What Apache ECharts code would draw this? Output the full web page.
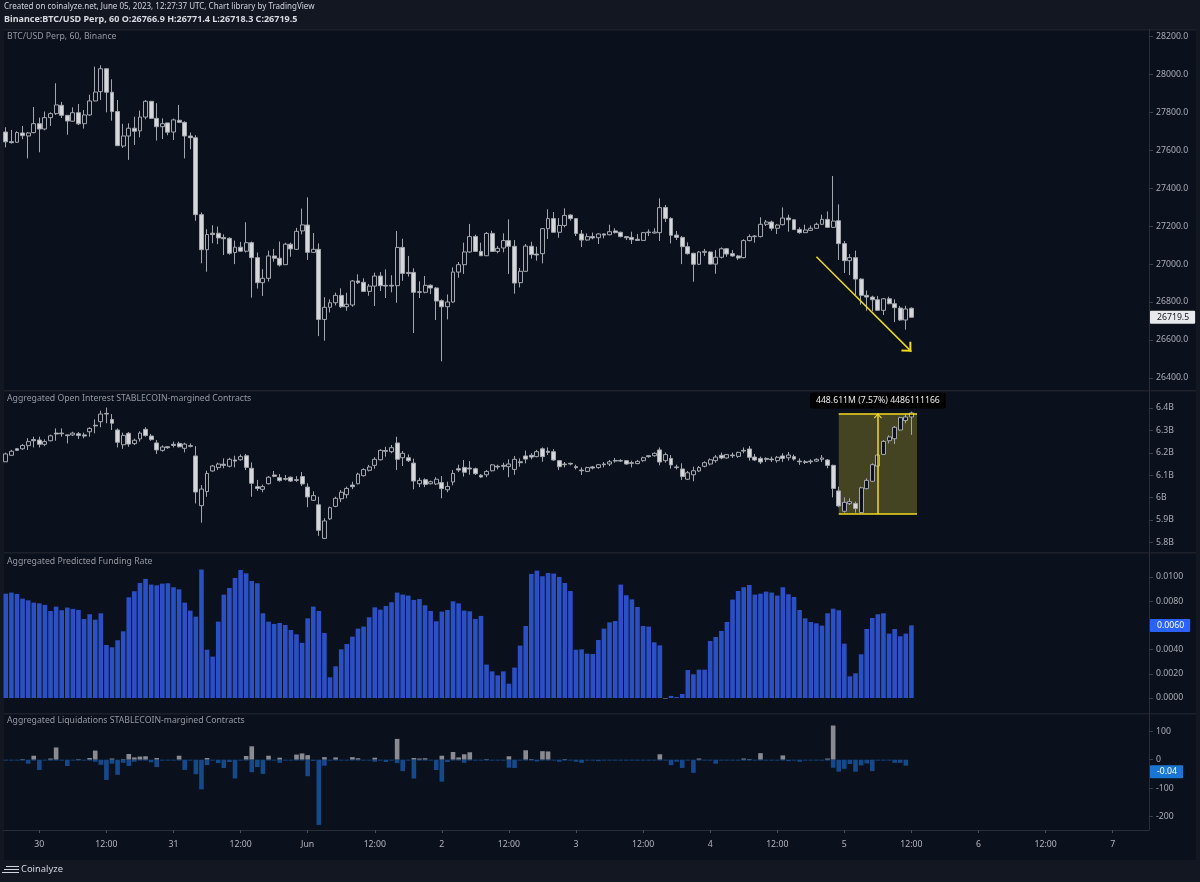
<!DOCTYPE html>
<html><head><meta charset="utf-8">
<style>html,body{margin:0;padding:0;background:#131722}#c{width:1200px;height:882px}</style>
<script src="https://cdn.jsdelivr.net/npm/echarts@6/dist/echarts.min.js"></script>
</head><body><div id="c"></div>
<script>
const priceOpen=[27697,27646,27643,27692,27676,27694,27741,27713,27773,27794,27838,27785,27754,27799,27741,27787,27861,27910,28031,27907,27805,27623,27676,27717,27703,27776,27859,27769,27725,27745,27697,27759,27748,27676,27667,27261,27076,27163,27163,27140,27136,27061,27089,27068,27113,27034,26902,26925,27043,27031,26997,27105,27078,27175,27206,27062,27078,26708,26772,26796,26835,26775,26784,26911,26904,26856,26884,26937,26888,26888,26886,27088,26956,26956,26854,26851,26888,26874,26807,26775,26800,26958,26997,27064,27146,27067,27044,27162,27067,27085,27124,27094,26902,26962,27094,27053,27055,27187,27240,27168,27204,27259,27240,27159,27127,27145,27139,27159,27155,27175,27168,27145,27141,27131,27125,27166,27164,27166,27299,27241,27153,27141,27092,27057,26999,27062,27064,27000,27036,27081,27055,27043,27034,27124,27145,27145,27210,27222,27189,27208,27243,27234,27183,27166,27178,27189,27210,27236,27194,27229,27108,27018,27034,26921,26835,26826,26812,26756,26817,26791,26768,26705,26766.9];
const priceClose=[27645,27641,27694,27678,27692,27741,27713,27773,27794,27840,27785,27755,27799,27740,27787,27861,27908,28031,27907,27805,27625,27676,27717,27701,27776,27859,27769,27725,27741,27696,27761,27748,27676,27667,27261,27076,27156,27156,27138,27134,27057,27089,27068,27113,27034,26902,26925,27043,27031,26995,27105,27080,27173,27207,27062,27078,26708,26772,26796,26835,26775,26788,26911,26902,26856,26884,26937,26886,26884,26884,27088,26951,26951,26851,26851,26888,26874,26805,26775,26800,26958,26997,27064,27145,27067,27044,27162,27067,27083,27124,27094,26900,26962,27095,27050,27048,27187,27240,27168,27204,27257,27240,27161,27127,27145,27138,27159,27153,27171,27166,27145,27139,27129,27125,27166,27169,27169,27298,27241,27152,27141,27092,27055,26999,27064,27067,27000,27036,27081,27053,27043,27032,27124,27145,27148,27210,27222,27189,27206,27243,27234,27182,27166,27180,27189,27210,27236,27194,27227,27108,27018,27034,26921,26835,26826,26812,26756,26817,26791,26770,26705,26763,26719.5];
const priceHigh=[27722,27708,27701,27729,27697,27829,27773,27805,27801,27954,27856,27785,27827,27845,27813,27894,28042,28049,28031,27975,27866,27740,27743,27778,27810,27866,27861,27849,27769,27745,27768,27840,27754,27694,27680,27272,27184,27205,27198,27157,27141,27124,27117,27221,27119,27061,26973,27071,27080,27119,27113,27113,27191,27293,27352,27164,27109,26825,26814,26849,26872,26849,26916,26946,26925,26895,26955,26958,26972,26941,27175,27134,27043,26978,26909,26937,26893,26879,26814,26840,26983,27011,27113,27212,27155,27113,27169,27176,27095,27162,27236,27127,26979,27106,27118,27092,27190,27289,27275,27243,27294,27263,27241,27180,27162,27166,27162,27162,27208,27189,27171,27148,27171,27159,27169,27183,27189,27347,27312,27247,27175,27148,27115,27060,27069,27080,27067,27074,27088,27085,27074,27048,27131,27157,27153,27247,27233,27229,27212,27299,27261,27238,27194,27208,27204,27219,27261,27278,27465,27315,27122,27053,27071,26925,26861,26833,26832,26821,26828,26814,26779,26780,26771.4];
const priceLow=[27616,27636,27641,27659,27558,27690,27590,27706,27729,27787,27771,27683,27752,27734,27715,27783,27859,27866,27801,27757,27625,27613,27550,27629,27669,27764,27766,27652,27660,27680,27655,27747,27558,27606,27229,27004,26960,27110,27105,27048,27050,27000,27066,27061,26823,26871,26832,26908,27013,26987,26995,27039,27075,27157,27022,27060,26620,26596,26745,26782,26768,26754,26775,26895,26853,26833,26779,26858,26821,26851,26796,26912,26934,26636,26821,26846,26842,26705,26487,26708,26796,26928,26948,27060,27064,27043,27043,27064,27057,27062,26948,26844,26877,26958,27029,27018,27004,27132,27166,27139,27194,27229,27148,27090,27124,27131,27106,27136,27152,27162,27141,27127,27106,27124,27124,27148,27162,27122,27222,27109,27127,27000,27050,26907,26995,27043,26999,26949,27030,27039,27039,27022,27030,27120,27113,27141,27201,27176,27159,27204,27171,27180,27160,27164,27175,27187,27206,27192,27190,27022,26953,26942,26837,26786,26754,26751,26754,26731,26788,26694,26701,26654,26718.3];

const oiOpen=[6160,6189,6218,6218,6232,6259,6257,6238,6254,6288,6288,6280,6280,6285,6280,6294,6323,6339,6376,6349,6302,6236,6287,6241,6262,6305,6275,6244,6211,6227,6238,6242,6220,6232,6186,5964,6027,6119,6134,6149,6140,6168,6169,6187,6131,6049,6037,6062,6101,6089,6085,6091,6080,6094,6047,5988,5968,5818,5905,5961,5995,6013,6056,6062,6098,6122,6144,6169,6210,6205,6244,6178,6178,6154,6062,6080,6062,6061,6067,6035,6070,6129,6135,6132,6129,6100,6102,6120,6140,6144,6138,6126,6160,6186,6189,6183,6218,6207,6205,6165,6150,6153,6138,6123,6117,6137,6134,6150,6150,6166,6166,6165,6156,6152,6165,6187,6187,6213,6165,6175,6137,6128,6082,6102,6119,6140,6150,6165,6189,6177,6190,6184,6211,6217,6181,6175,6175,6172,6165,6186,6178,6183,6163,6160,6163,6163,6171,6168,6144,6030,5939,5973,5974,5933,6040,6073,6141,6193,6254,6263,6302,6344,6360];
const oiClose=[6195,6207,6211,6233,6250,6254,6238,6250,6276,6284,6285,6277,6288,6277,6275,6309,6320,6373,6373,6332,6247,6278,6239,6256,6288,6277,6259,6213,6226,6223,6233,6227,6239,6229,6025,6038,6108,6141,6150,6144,6171,6163,6183,6135,6064,6041,6049,6091,6095,6076,6082,6074,6077,6061,6003,6009,5854,5896,5955,5997,6024,6041,6049,6105,6125,6137,6171,6211,6207,6223,6171,6198,6165,6074,6077,6059,6071,6082,6040,6050,6108,6123,6113,6128,6107,6092,6117,6146,6137,6140,6150,6171,6156,6172,6181,6205,6183,6202,6168,6138,6147,6150,6134,6120,6134,6132,6147,6147,6160,6163,6163,6150,6153,6162,6178,6183,6198,6159,6192,6146,6134,6094,6111,6120,6134,6156,6169,6181,6177,6192,6187,6202,6208,6180,6168,6159,6171,6169,6180,6175,6190,6172,6160,6157,6160,6171,6177,6144,6041,5963,5979,5982,5951,6044,6077,6147,6190,6251,6271,6314,6357,6360,6378];
const oiHigh=[6201,6213,6221,6239,6265,6272,6272,6260,6281,6309,6309,6282,6294,6293,6290,6314,6349,6388,6402,6373,6309,6290,6293,6263,6296,6314,6284,6257,6233,6230,6250,6250,6245,6242,6230,6056,6120,6146,6156,6175,6178,6187,6193,6195,6157,6079,6058,6096,6119,6105,6101,6094,6096,6114,6064,6028,6004,5908,5960,6004,6034,6049,6071,6111,6131,6146,6180,6216,6227,6235,6272,6208,6193,6174,6089,6086,6076,6091,6096,6071,6123,6147,6168,6163,6134,6105,6123,6150,6147,6156,6171,6186,6175,6210,6198,6213,6224,6224,6216,6168,6159,6156,6147,6135,6138,6141,6150,6159,6168,6177,6171,6168,6165,6168,6183,6190,6202,6224,6201,6190,6147,6153,6119,6138,6141,6162,6175,6190,6201,6195,6201,6205,6224,6230,6195,6183,6180,6183,6186,6198,6204,6192,6175,6168,6171,6175,6190,6172,6147,6049,6001,5997,5982,6049,6086,6153,6195,6257,6278,6320,6361,6373,6384];
const oiLow=[6160,6187,6208,6213,6213,6224,6224,6230,6251,6254,6272,6242,6275,6262,6265,6272,6287,6314,6332,6302,6224,6218,6227,6235,6250,6272,6254,6195,6205,6218,6224,6224,6202,6224,5974,5888,6004,6116,6123,6131,6135,6135,6165,6123,6004,6030,6024,6059,6091,6071,6076,6070,6070,6052,5957,5985,5829,5815,5900,5957,5980,5997,6038,6059,6094,6117,6129,6166,6183,6198,6123,6141,6159,6037,6047,6047,6059,6056,5997,6024,6055,6114,6094,6102,6101,6089,6091,6117,6126,6123,6091,6102,6138,6153,6171,6180,6160,6190,6165,6123,6135,6144,6126,6101,6114,6126,6129,6135,6141,6156,6159,6147,6135,6149,6160,6178,6183,6144,6156,6129,6126,6079,6079,6073,6114,6135,6144,6156,6171,6174,6177,6178,6198,6165,6163,6150,6159,6159,6156,6159,6165,6165,6146,6150,6150,6159,6159,6131,6001,5957,5933,5967,5933,5930,6037,6070,6138,6190,6242,6239,6299,6332,6280];

const funding=[.00862,.00871,.0086,.00821,.00807,.00788,.00782,.00769,.00719,.00755,.00725,.00747,.00736,.00727,.00653,.00692,.00647,.007,.00438,.00419,.00477,.00551,.00832,.00882,.0095,.00984,.00937,.00931,.00945,.00948,.00915,.00898,.00788,.00722,.00672,.01061,.00399,.00342,.00631,.00854,.00909,.00992,.01058,.0103,.00967,.00948,.007,.00631,.00612,.0062,.00603,.00562,.00526,.00455,.00658,.00755,.00719,.00537,.00171,.00262,.00402,.00446,.00507,.00573,.0059,.00667,.00749,.0073,.0076,.00791,.00871,.00854,.00846,.0081,.00818,.00766,.00719,.00634,.00714,.00727,.00799,.00782,.00722,.00716,.00653,.00678,.00276,.0022,.00187,.0022,.00118,.00251,.00433,.00595,.01025,.01052,.01006,.01033,.01028,.01,.0095,.00884,.00399,.00402,.00366,.00364,.00479,.00573,.00625,.00636,.00937,.00849,.00815,.00752,.00595,.0059,.0046,.00435,-.00005,.00017,.00008,.00033,.00231,.00196,.00234,.00234,.00471,.00504,.00554,.00628,.00813,.00884,.00915,.00934,.00854,.00862,.00879,.00871,.00846,.00915,.00857,.00835,.00727,.00658,.00628,.00617,.00598,.007,.00738,.00725,.00449,.00179,.00204,.00361,.0057,.00661,.00692,.007,.00532,.0057,.0051,.00532,.006];

const liqLong=[0,0,0,2,0,14,0,0,4,43,0,0,0,2,0,6,32,0,0,4,0,2,20,8,11,12,0,6,0,0,0,14,0,0,0,0,6,0,0,0,0,0,0,13,47,0,0,14,0,7,0,0,18,22,16,0,0,9,0,8,0,0,9,5,0,0,7,0,0,0,73,0,0,6,4,5,0,0,14,0,27,8,19,26,0,0,2,0,0,0,12,0,0,33,2,0,30,29,0,0,2,0,0,0,0,0,0,0,0,0,0,0,0,0,0,0,0,19,0,0,0,0,0,0,4,0,0,0,0,0,0,0,4,2,0,23,0,0,0,15,0,0,0,0,0,0,0,4,120,0,0,0,0,0,0,0,0,0,0,0,0,0,0];
const liqShort=[-3,-3,-3,-3,-14,-3,-36,-3,-3,-3,-3,-22,-3,-3,-3,-3,-7,-18,-71,-14,-53,-11,-22,-7,-3,-3,-9,-26,-3,-3,-3,-3,-36,-3,-51,-104,-19,-3,-12,-29,-8,-66,-3,-3,-44,-26,-50,-3,-3,-11,-3,-3,-3,-3,-58,-4,-229,-21,-3,-3,-3,-3,-3,-3,-3,-3,-7,-3,-8,-3,-12,-40,-3,-66,-3,-3,-3,-36,-77,-8,-3,-3,-11,-3,-3,-3,-3,-3,-3,-3,-28,-29,-3,-3,-3,-6,-3,-3,-3,-7,-3,-3,-7,-11,-3,-3,-5,-3,-3,-3,-3,-3,-3,-3,-3,-3,-3,-3,-3,-19,-7,-29,-3,-46,-3,-3,-3,-14,-3,-3,-3,-3,-3,-3,-3,-3,-3,-3,-3,-3,-5,-3,-7,-3,-3,-3,-3,-3,-28,-42,-32,-15,-42,-20,-13,-40,-3,-3,-3,-11,-11,-21,-.04];

const timeLabels={6:'30',18:'12:00',30:'31',42:'12:00',54:'Jun',66:'12:00',78:'2',90:'12:00',102:'3',114:'12:00',126:'4',138:'12:00',150:'5',162:'12:00',174:'6',186:'12:00',198:'7'};
const slotCount=205;
const priceTicks=[26400,26600,26800,27000,27200,27400,27600,27800,28000,28200];
const oiTicks=[5800,5900,6000,6100,6200,6300,6400];
const fundingTicks=[0,.002,.004,.006,.008,.01];
const liqTicks=[-200,-100,0,100];

const categories=[];for(let i=0;i<slotCount;i++)categories.push(String(i));
const zip=(o,c,l,h)=>o.map((v,i)=>[v,c[i],l[i],h[i]]);

const FONT='Noto Sans',FS=8.7;
const LEFT=3,WIDTH=1146;
const grids=[{top:29.5,height:360.5},{top:391,height:161},{top:553,height:160},{top:714,height:116}]
  .map(g=>({left:LEFT,width:WIDTH,top:g.top,height:g.height,containLabel:false}));
const xAxes=grids.map((g,k)=>({type:'category',gridIndex:k,data:categories,boundaryGap:true,
  axisLine:{show:k===3,onZero:false,lineStyle:{color:'#2a2e39'}},
  axisTick:{show:k===3,length:3,alignWithLabel:true,interval:i=>i in timeLabels,lineStyle:{color:'#4a4e59'}},
  splitLine:{show:false},
  axisLabel:{show:k===3,interval:i=>i in timeLabels,margin:10,fontSize:FS,fontFamily:FONT,
    hideOverlap:false,formatter:(v,i)=>timeLabels[v]||'',color:'#b2b5be'}}));
const yAx=(k,min,max,ticks,fmt)=>({type:'value',gridIndex:k,position:'right',min,max,scale:true,
  axisLine:{show:true,onZero:false,lineStyle:{color:'#2a2e39'}},
  axisTick:{show:true,length:4,customValues:ticks,lineStyle:{color:'#3a3e49'}},
  splitLine:{show:false},
  axisLabel:{customValues:ticks,formatter:fmt,color:'#a8abb4',fontSize:FS,margin:7,fontFamily:FONT}});
const yAxes=[
  yAx(0,26335.6,28238,priceTicks,v=>v.toFixed(1)),
  yAx(1,5757.2,6476,oiTicks,v=>(v/1000)+'B'),
  yAx(2,-.00124,.01198,fundingTicks,v=>v.toFixed(4)),
  yAx(3,-246.7,160.4,liqTicks,v=>String(v))
];
// chevron whose tip sits at the centre of the symbol box, so the tip lands on the line's end
const chevron='path://M10,-12 L10.01,-12 Z M10,0 L20,10 L18,12 L10,4 L2,12 L0,10 Z';
const YEL='#f0d91f';
const candleStyle={color:'#0b111c',color0:'#d6d7da',borderColor:'#a4a7ad',borderColor0:'#a4a7ad',borderWidth:1};
const endLabel=(value,text,bg,fg,off)=>({yAxis:value,symbol:'none',lineStyle:{color:'transparent',width:0},
  label:{show:true,position:'end',formatter:text,distance:1,backgroundColor:bg,color:fg,fontSize:FS,fontFamily:FONT,
    padding:[2,6,2,7],borderRadius:1,offset:off||[0,0]}});
const ttl=(text,left,top,color,extra)=>({text,left,top,padding:0,textStyle:Object.assign({color,fontSize:FS,fontWeight:'normal',fontFamily:FONT},extra||{})});
const titles=[
 ttl('Created on coinalyze.net, June 05, 2023, 12:27:37 UTC, Chart library by TradingView',4,3,'#d1d4dc',{fontSize:8}),
 ttl('Binance:BTC/USD Perp, 60 O:26766.9 H:26771.4 L:26718.3 C:26719.5',4,14.5,'#d8dae0',{fontWeight:'bold',fontSize:9}),
 ttl('BTC/USD Perp, 60, Binance',7,32.5,'#9598a1'),
 ttl('Aggregated Open Interest STABLECOIN-margined Contracts',7,394.5,'#9598a1'),
 ttl('Aggregated Predicted Funding Rate',7,557.5,'#9598a1'),
 ttl('Aggregated Liquidations STABLECOIN-margined Contracts',7,716.5,'#9598a1'),
 ttl('Coinalyze',21,865,'#d1d4dc',{fontSize:9.4})
];
const sep=y=>({type:'rect',z:-1,silent:true,shape:{x:4,y:y,width:1192,height:1.5},style:{fill:'#1c202b'}});
const graphic=[
 {type:'rect',z:-2,silent:true,shape:{x:4,y:29,width:1192,height:831},style:{fill:'#0b111c'}},
 sep(29),sep(390),sep(552),sep(713),
 {type:'rect',silent:true,shape:{x:6,y:866,width:13,height:1},style:{fill:'#d1d4dc'}},
 {type:'rect',silent:true,shape:{x:4,y:869,width:15,height:1},style:{fill:'#d1d4dc'}},
 {type:'rect',silent:true,shape:{x:2,y:872,width:17,height:1},style:{fill:'#d1d4dc'}}
];
const option={animation:false,backgroundColor:'#131722',title:titles,grid:grids,xAxis:xAxes,yAxis:yAxes,graphic,
 series:[
 {type:'candlestick',name:'Price',xAxisIndex:0,yAxisIndex:0,barWidth:4.4,itemStyle:candleStyle,
  data:zip(priceOpen,priceClose,priceLow,priceHigh),
  markLine:{silent:true,animation:false,symbol:'none',precision:1,data:[
    endLabel(26719.5,'26719.5','#e8e9ec','#131722'),
    [{coord:['145',27039],symbol:'none',lineStyle:{color:YEL,width:1.5,type:'solid'},label:{show:false}},
     {coord:['162',26538],symbol:chevron,symbolSize:[14,17]}]
  ]}},
 {type:'candlestick',name:'Open Interest',xAxisIndex:1,yAxisIndex:1,barWidth:4.4,itemStyle:candleStyle,
  data:zip(oiOpen,oiClose,oiLow,oiHigh),
  markArea:{silent:true,animation:false,itemStyle:{color:'rgba(240,220,50,0.25)'},
    label:{show:true,position:'top',distance:5,formatter:'448.611M (7.57%) 4486111166',color:'#e8e9ec',fontSize:FS,fontFamily:FONT,backgroundColor:'#000',padding:[4,6,3,6],borderRadius:2},
    data:[[{coord:['149',6376]},{coord:['163',5927.4]}]]},
  markLine:{silent:true,animation:false,symbol:'none',label:{show:false},lineStyle:{color:YEL,width:1.5,type:'solid'},data:[
    [{coord:['149',6376]},{coord:['163',6376]}],
    [{coord:['149',5927.4]},{coord:['163',5927.4]}],
    [{coord:['156',5927.4]},{coord:['156',6376],symbol:chevron,symbolSize:[8,10]}]
  ]}},
 {type:'bar',name:'Funding',xAxisIndex:2,yAxisIndex:2,barWidth:4.6,data:funding,
  itemStyle:{color:p=>p.value<0?'#868993':'#2b4fc4'},
  markLine:{silent:true,animation:false,symbol:'none',precision:5,data:[endLabel(.006,'0.0060','#2962ff','#fff')]}},
 {type:'bar',name:'Long liquidations',xAxisIndex:3,yAxisIndex:3,barWidth:4.6,barGap:'-100%',data:liqLong,
  itemStyle:{color:'#8a8b92'}},
 {type:'bar',name:'Short liquidations',xAxisIndex:3,yAxisIndex:3,barWidth:4.6,barGap:'-100%',data:liqShort,
  itemStyle:{color:'#144a8c'},
  markLine:{silent:true,animation:false,symbol:'none',precision:3,data:[endLabel(-.04,'-0.04','#1976d2','#fff',[0,12])]}}
 ]};
const chart=echarts.init(document.getElementById('c'),null,{renderer:'canvas'});
chart.setOption(option);
</script></body></html>
